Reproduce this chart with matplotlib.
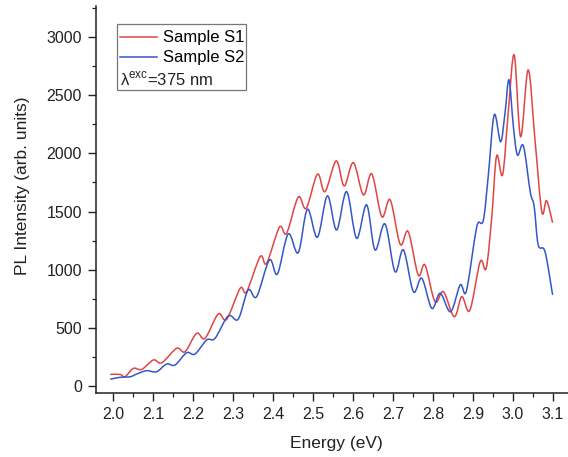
import numpy as np
import matplotlib
matplotlib.use('Agg')
import matplotlib.pyplot as plt
from matplotlib.patches import Rectangle, PathPatch
from matplotlib.path import Path
from matplotlib.lines import Line2D
from matplotlib.ticker import MultipleLocator, FormatStrFormatter

plt.rcParams['font.family'] = ['Liberation Sans', 'DejaVu Sans']
plt.rcParams['mathtext.fontset'] = 'custom'
plt.rcParams['mathtext.rm'] = 'Liberation Sans'

# values (energy in eV, intensity in arb. units)
energy_s1 = [1.993, 2.018, 2.030, 2.051, 2.072, 2.101, 2.122, 2.159, 2.180, 2.209,
             2.230, 2.263, 2.284, 2.318, 2.334, 2.368, 2.384, 2.416, 2.434, 2.463,
             2.483, 2.511, 2.530, 2.558, 2.578, 2.601, 2.626, 2.647, 2.672, 2.693,
             2.718, 2.738, 2.763, 2.780, 2.805, 2.826, 2.853, 2.872, 2.892, 2.918,
             2.933, 2.947, 2.959, 2.974, 2.988, 3.003, 3.019, 3.038, 3.055, 3.072,
             3.084, 3.099]
pl_s1 = [100, 100, 80, 152, 143, 224, 200, 324, 295, 453,
         410, 619, 573, 840, 811, 1112, 1055, 1365, 1313, 1623,
         1528, 1820, 1671, 1935, 1720, 1920, 1643, 1823, 1456, 1600,
         1218, 1327, 955, 1040, 725, 811, 596, 768, 650, 1069,
         1012, 1456, 1978, 1815, 2345, 2846, 2144, 2717, 2115, 1499,
         1593, 1404]

energy_s2 = [1.993, 2.018, 2.043, 2.059, 2.084, 2.109, 2.134, 2.155, 2.184, 2.205,
             2.234, 2.255, 2.288, 2.313, 2.338, 2.359, 2.391, 2.411, 2.438, 2.463,
             2.486, 2.511, 2.536, 2.559, 2.584, 2.609, 2.634, 2.655, 2.680, 2.705,
             2.726, 2.751, 2.772, 2.797, 2.818, 2.844, 2.868, 2.883, 2.905, 2.913,
             2.926, 2.938, 2.953, 2.969, 2.980, 2.990, 3.001, 3.011, 3.026, 3.043,
             3.053, 3.063, 3.080, 3.099]
pl_s2 = [58, 75, 80, 103, 132, 123, 189, 181, 286, 275,
         396, 410, 602, 575, 826, 768, 1083, 963, 1307, 1146,
         1519, 1279, 1634, 1342, 1671, 1270, 1557, 1170, 1393, 983,
         1170, 811, 926, 668, 797, 639, 869, 811, 1284, 1404,
         1427, 1800, 2330, 2100, 2345, 2632, 2229, 1986, 2064, 1671,
         1542, 1213, 1155, 783]

labels = ['Sample S1', 'Sample S2']
colors = ['#e04545', '#3556c8']


def spline_path(x, y):
    # connect the points with a smooth (Catmull-Rom style) bezier, like Origin's spline line
    p = np.column_stack([x, y]).astype(float)
    n = len(p)
    verts = [p[0]]
    codes = [Path.MOVETO]
    for i in range(n - 1):
        p0 = p[max(i - 1, 0)]
        p1 = p[i]
        p2 = p[i + 1]
        p3 = p[min(i + 2, n - 1)]
        verts += [p1 + (p2 - p0) / 6, p2 - (p3 - p1) / 6, p2]
        codes += [Path.CURVE4] * 3
    return Path(verts, codes)


fig = plt.figure(figsize=(5.68, 4.57), dpi=100)
ax = fig.add_axes([0.169, 0.140, 0.831, 0.847])

for xs, ys, c in [(energy_s1, pl_s1, colors[0]), (energy_s2, pl_s2, colors[1])]:
    ax.add_patch(PathPatch(spline_path(xs, ys), fill=False, edgecolor=c, lw=1.1))

ax.set_xlim(1.9575, 3.1375)
ax.set_ylim(-60, 3267)
ax.xaxis.set_major_locator(MultipleLocator(0.1))
ax.xaxis.set_minor_locator(MultipleLocator(0.05))
ax.yaxis.set_major_locator(MultipleLocator(500))
ax.yaxis.set_minor_locator(MultipleLocator(250))
ax.xaxis.set_major_formatter(FormatStrFormatter('%.1f'))

for s in ['top', 'right']:
    ax.spines[s].set_visible(False)
for s in ['left', 'bottom']:
    ax.spines[s].set_linewidth(1.1)
    ax.spines[s].set_color('#222222')
ax.tick_params(which='major', direction='out', length=6, width=1.0,
               labelsize=11.5, pad=4, colors='#222222')
ax.tick_params(which='minor', direction='out', length=3, width=0.9, colors='#222222')

ax.set_xlabel('Energy (eV)', fontsize=12.5, color='#222222')
ax.set_ylabel('PL Intensity (arb. units)', fontsize=12.5, color='#222222')
ax.xaxis.set_label_coords(0.5095, -0.11)
ax.yaxis.set_label_coords(-0.139, 0.535)

# legend box with the excitation line text below the two entries
ax.add_patch(Rectangle((0.0445, 0.783), 0.2735, 0.1705, transform=ax.transAxes,
                       fill=False, edgecolor='#777777', lw=0.9, zorder=5))
handles = [Line2D([], [], color=c, lw=1.1) for c in colors]
ax.legend(handles, labels, loc='upper left', bbox_to_anchor=(0.044, 0.9455),
          frameon=False, fontsize=12, handlelength=2.2, handletextpad=0.35,
          labelspacing=0.3, borderpad=0.2, borderaxespad=0)
ax.text(0.051, 0.795, r'λ$^{\mathrm{exc}}$=375 nm', transform=ax.transAxes,
        fontsize=12, va='baseline', ha='left', color='#222222')

fig.savefig('out.png', dpi=100)
